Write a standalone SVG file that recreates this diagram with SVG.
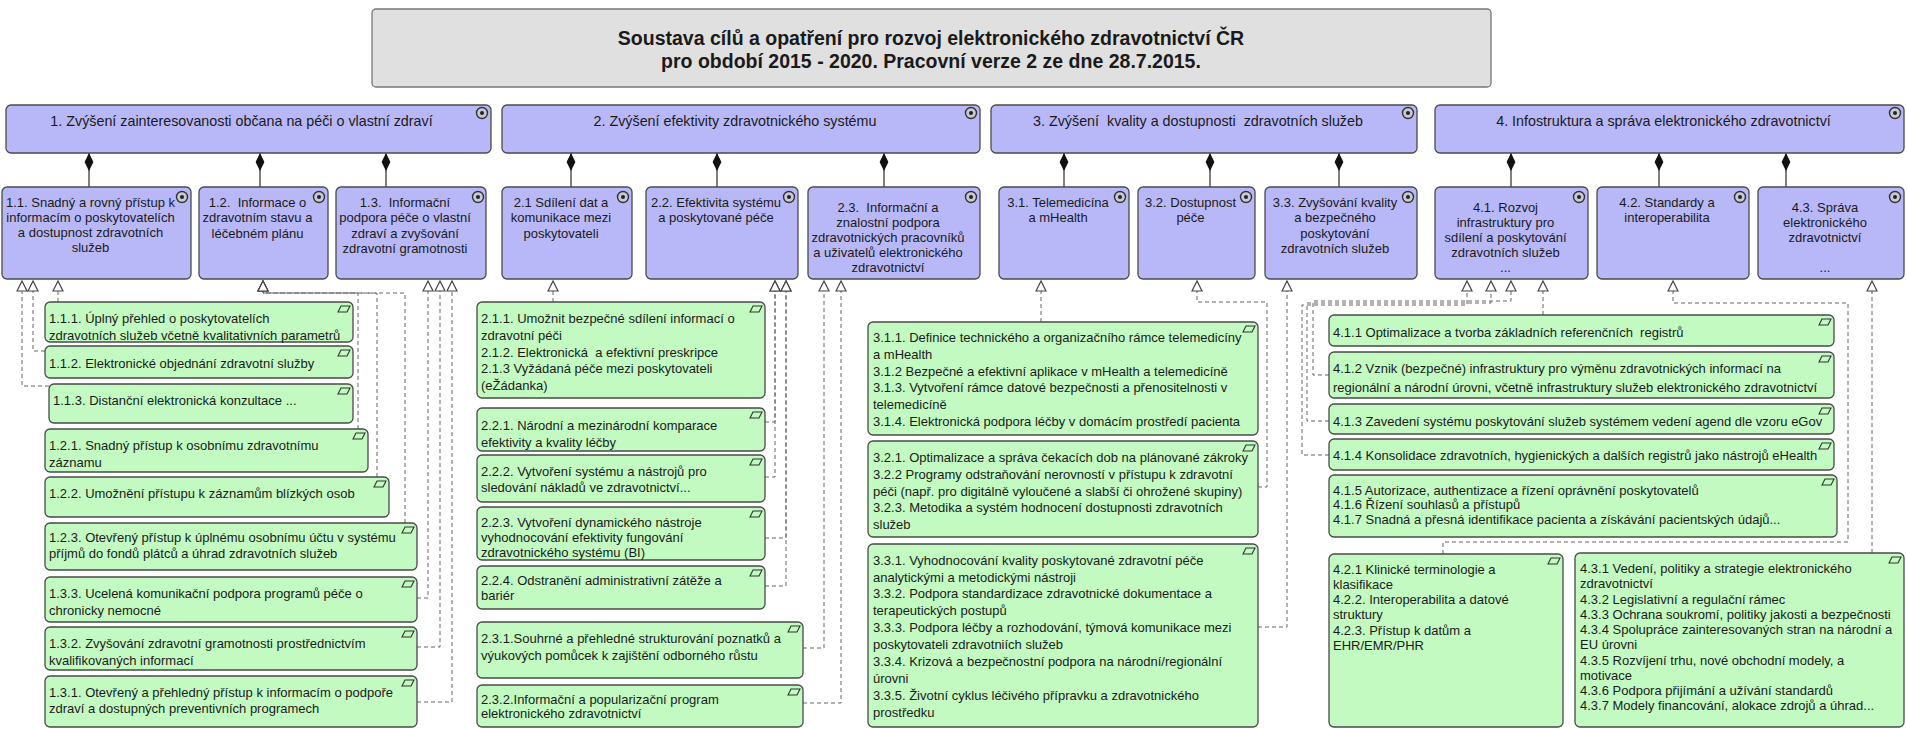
<svg xmlns="http://www.w3.org/2000/svg" xmlns:xlink="http://www.w3.org/1999/xlink" width="1907" height="729" viewBox="0 0 1907 729">
<style>
.p{fill:#b8b8f8;stroke:#4a4a4a;stroke-width:1.3}
.g{fill:#c2fac2;stroke:#4a4a4a;stroke-width:1.3}
.t{fill:#e0e0e0;stroke:#777;stroke-width:1.3}
text{font-family:"Liberation Sans",Arial,sans-serif;fill:#1a1a1a;white-space:pre}
.l1{font-size:14.3px;text-anchor:middle}
.l2{font-size:13px;text-anchor:middle}
.gt{font-size:13px}
.ttl{font-size:19.5px;font-weight:bold;text-anchor:middle}
.dash{fill:none;stroke:#666;stroke-width:1;stroke-dasharray:4 3;marker-end:url(#tri)}
.comp{fill:none;stroke:#555;stroke-width:1.5;marker-end:url(#dia)}
</style>
<defs>
<marker id="tri" viewBox="0 0 12 12" refX="11" refY="6" markerWidth="12" markerHeight="12" markerUnits="userSpaceOnUse" orient="auto"><path d="M1,1 L11,6 L1,11 Z" fill="#fff" stroke="#444" stroke-width="1.2"/></marker>
<marker id="dia" viewBox="0 0 20 10" refX="19" refY="5" markerWidth="20" markerHeight="10" markerUnits="userSpaceOnUse" orient="auto"><path d="M1,5 L10,0.6 L19,5 L10,9.4 Z" fill="#111"/></marker>
<g id="goal"><circle r="5.5" fill="#c8c8d8" stroke="#333" stroke-width="1.4"/><circle r="2" fill="#222"/></g>
<path id="req" d="M0,6 L3,0 L12,0 L9,6 Z" fill="none" stroke="#333" stroke-width="1.1"/>
</defs>
<rect width="1907" height="729" fill="#fff"/>

<g id="connectors">
<path class="comp" d="M89,187 V153"/><path class="comp" d="M260,187 V153"/><path class="comp" d="M386,187 V153"/>
<path class="comp" d="M571,187 V153"/><path class="comp" d="M717,187 V153"/><path class="comp" d="M884,187 V153"/>
<path class="comp" d="M1064,187 V153"/><path class="comp" d="M1210,187 V153"/><path class="comp" d="M1339,187 V153"/>
<path class="comp" d="M1511,187 V153"/><path class="comp" d="M1659,187 V153"/><path class="comp" d="M1786,187 V153"/>
<path class="dash" d="M58,302 V281"/>
<path class="dash" d="M45,351 H33 V281"/>
<path class="dash" d="M49,386 H22 V281"/>
<path class="dash" d="M358,429 V293 H263 V281"/>
<path class="dash" d="M377,477 V293 H263 V281"/>
<path class="dash" d="M405,523 V293 H263 V281"/>
<path class="dash" d="M417,598 H428 V281"/>
<path class="dash" d="M417,647 H440 V281"/>
<path class="dash" d="M417,702 H452 V281"/>
<path class="dash" d="M553,302 V281"/>
<path class="dash" d="M765,422 H775 V281"/>
<path class="dash" d="M765,477 H775 V281"/>
<path class="dash" d="M765,538 H786 V281"/>
<path class="dash" d="M765,586 H786 V281"/>
<path class="dash" d="M803,648 H824 V281"/>
<path class="dash" d="M803,703 H841 V281"/>
<path class="dash" d="M1041,322 V281"/>
<path class="dash" d="M1258,487 H1267 V302 H1197 V281"/>
<path class="dash" d="M1258,627 H1287 V281"/>
<path class="dash" d="M1543,315 V281"/>
<path class="dash" d="M1329,375 H1313 V301 H1511 V281"/>
<path class="dash" d="M1329,421 H1307 V303 H1491 V281"/>
<path class="dash" d="M1329,455 H1302 V305 H1467 V281"/>
<path class="dash" d="M1443,554 V542 H1848 V303 H1673 V281"/>
<path class="dash" d="M1872,553 V281"/>
</g>

<g id="title"><rect class="t" x="372" y="9" width="1119" height="78" rx="4"/>
<text class="ttl" x="931" y="45">Soustava cílů a opatření pro rozvoj elektronického zdravotnictví ČR</text>
<text class="ttl" x="931" y="68">pro období 2015 - 2020. Pracovní verze 2 ze dne 28.7.2015.</text></g>

<g id="n1"><rect class="p" x="6" y="105" width="485" height="48" rx="5"/><use href="#goal" x="482" y="113"/><text class="l1" x="241.5" y="126">1. Zvýšení zainteresovanosti občana na péči o vlastní zdraví</text></g>
<g id="n2"><rect class="p" x="502" y="105" width="478" height="48" rx="5"/><use href="#goal" x="971" y="113"/><text class="l1" x="735" y="126">2. Zvýšení efektivity zdravotnického systému</text></g>
<g id="n3"><rect class="p" x="991" y="105" width="426" height="48" rx="5"/><use href="#goal" x="1408" y="113"/><text class="l1" x="1198" y="126">3. Zvýšení  kvality a dostupnosti  zdravotních služeb</text></g>
<g id="n4"><rect class="p" x="1435" y="105" width="469" height="48" rx="5"/><use href="#goal" x="1895" y="113"/><text class="l1" x="1663.5" y="126">4. Infostruktura a správa elektronického zdravotnictví</text></g>

<g id="n1-1"><rect class="p" x="2" y="187" width="189" height="92" rx="5"/><use href="#goal" x="182" y="197"/><text class="l2"><tspan x="90.5" y="206.5">1.1. Snadný a rovný přístup k</tspan><tspan x="90.5" y="221.5">informacím o poskytovatelích</tspan><tspan x="90.5" y="236.5">a dostupnost zdravotních</tspan><tspan x="90.5" y="251.5">služeb</tspan></text></g>
<g id="n1-2"><rect class="p" x="199" y="187" width="129" height="92" rx="5"/><use href="#goal" x="319" y="197"/><text class="l2"><tspan x="257.5" y="206.5">1.2.  Informace o</tspan><tspan x="257.5" y="222">zdravotním stavu a</tspan><tspan x="257.5" y="237.5">léčebném plánu</tspan></text></g>
<g id="n1-3"><rect class="p" x="336" y="187" width="150" height="92" rx="5"/><use href="#goal" x="478" y="197"/><text class="l2"><tspan x="405" y="206.5">1.3.  Informační</tspan><tspan x="405" y="222">podpora péče o vlastní</tspan><tspan x="405" y="237.5">zdraví a zvyšování</tspan><tspan x="405" y="252.5">zdravotní gramotnosti</tspan></text></g>
<g id="n2-1"><rect class="p" x="502" y="187" width="130" height="92" rx="5"/><use href="#goal" x="623" y="197"/><text class="l2"><tspan x="561" y="206.5">2.1 Sdílení dat a</tspan><tspan x="561" y="222">komunikace mezi</tspan><tspan x="561" y="237.5">poskytovateli</tspan></text></g>
<g id="n2-2"><rect class="p" x="646" y="187" width="152" height="92" rx="5"/><use href="#goal" x="789" y="197"/><text class="l2"><tspan x="716" y="206.5">2.2. Efektivita systému</tspan><tspan x="716" y="222">a poskytované péče</tspan></text></g>
<g id="n2-3"><rect class="p" x="808" y="187" width="172" height="92" rx="5"/><use href="#goal" x="971" y="197"/><text class="l2"><tspan x="888" y="211.5">2.3.  Informační a</tspan><tspan x="888" y="226.5">znalostní podpora</tspan><tspan x="888" y="241.5">zdravotnických pracovníků</tspan><tspan x="888" y="256.5">a uživatelů elektronického</tspan><tspan x="888" y="271.5">zdravotnictví</tspan></text></g>
<g id="n3-1"><rect class="p" x="999" y="187" width="130" height="92" rx="5"/><use href="#goal" x="1120" y="197"/><text class="l2"><tspan x="1058" y="206.5">3.1. Telemedicína</tspan><tspan x="1058" y="222">a mHealth</tspan></text></g>
<g id="n3-2"><rect class="p" x="1138" y="187" width="117" height="92" rx="5"/><use href="#goal" x="1246" y="197"/><text class="l2"><tspan x="1190.5" y="206.5">3.2. Dostupnost</tspan><tspan x="1190.5" y="222">péče</tspan></text></g>
<g id="n3-3"><rect class="p" x="1265" y="187" width="152" height="92" rx="5"/><use href="#goal" x="1408" y="197"/><text class="l2"><tspan x="1335" y="206.5">3.3. Zvyšování kvality</tspan><tspan x="1335" y="222">a bezpečného</tspan><tspan x="1335" y="237.5">poskytování</tspan><tspan x="1335" y="252.5">zdravotních služeb</tspan></text></g>
<g id="n4-1"><rect class="p" x="1435" y="187" width="153" height="92" rx="5"/><use href="#goal" x="1579" y="197"/><text class="l2"><tspan x="1505.5" y="211.5">4.1. Rozvoj</tspan><tspan x="1505.5" y="226.5">infrastruktury pro</tspan><tspan x="1505.5" y="241.5">sdílení a poskytování</tspan><tspan x="1505.5" y="256.5">zdravotních služeb</tspan><tspan x="1505.5" y="271.5">...</tspan></text></g>
<g id="n4-2"><rect class="p" x="1597" y="187" width="152" height="92" rx="5"/><use href="#goal" x="1740" y="197"/><text class="l2"><tspan x="1667" y="206.5">4.2. Standardy a</tspan><tspan x="1667" y="222">interoperabilita</tspan></text></g>
<g id="n4-3"><rect class="p" x="1758" y="187" width="146" height="92" rx="5"/><use href="#goal" x="1895" y="197"/><text class="l2"><tspan x="1825" y="211.5">4.3. Správa</tspan><tspan x="1825" y="226.5">elektronického</tspan><tspan x="1825" y="241.5">zdravotnictví</tspan><tspan x="1825" y="271.5">...</tspan></text></g>

<g id="r1-1-1"><rect class="g" x="45" y="302" width="308" height="40" rx="5"/><use href="#req" x="338" y="306"/><text class="gt"><tspan x="49" y="322.5">1.1.1. Úplný přehled o poskytovatelích</tspan><tspan x="49" y="339.5">zdravotních služeb včetně kvalitativních parametrů</tspan></text></g>
<g id="r1-1-2"><rect class="g" x="45" y="346" width="308" height="32" rx="5"/><use href="#req" x="338" y="350"/><text class="gt"><tspan x="49" y="367.5">1.1.2. Elektronické objednání zdravotní služby</tspan></text></g>
<g id="r1-1-3"><rect class="g" x="49" y="384" width="304" height="39" rx="5"/><use href="#req" x="338" y="388"/><text class="gt"><tspan x="53" y="404.5">1.1.3. Distanční elektronická konzultace ...</tspan></text></g>
<g id="r1-2-1"><rect class="g" x="45" y="429" width="323" height="43" rx="5"/><use href="#req" x="353" y="433"/><text class="gt"><tspan x="49" y="449.5">1.2.1. Snadný přístup k osobnímu zdravotnímu</tspan><tspan x="49" y="466.5">záznamu</tspan></text></g>
<g id="r1-2-2"><rect class="g" x="45" y="477" width="344" height="40" rx="5"/><use href="#req" x="374" y="481"/><text class="gt"><tspan x="49" y="497.5">1.2.2. Umožnění přístupu k záznamům blízkých osob</tspan></text></g>
<g id="r1-2-3"><rect class="g" x="45" y="523" width="372" height="47" rx="5"/><use href="#req" x="402" y="527"/><text class="gt"><tspan x="49" y="541.5">1.2.3. Otevřený přístup k úplnému osobnímu účtu v systému</tspan><tspan x="49" y="557.5">příjmů do fondů plátců a úhrad zdravotních služeb</tspan></text></g>
<g id="r1-3-3"><rect class="g" x="45" y="577" width="372" height="45" rx="5"/><use href="#req" x="402" y="581"/><text class="gt"><tspan x="49" y="597.5">1.3.3. Ucelená komunikační podpora programů péče o</tspan><tspan x="49" y="614.5">chronicky nemocné</tspan></text></g>
<g id="r1-3-2"><rect class="g" x="45" y="627" width="372" height="43" rx="5"/><use href="#req" x="402" y="631"/><text class="gt"><tspan x="49" y="647.5">1.3.2. Zvyšování zdravotní gramotnosti prostřednictvím</tspan><tspan x="49" y="664.5">kvalifikovaných informací</tspan></text></g>
<g id="r1-3-1"><rect class="g" x="45" y="676" width="372" height="51" rx="5"/><use href="#req" x="402" y="680"/><text class="gt"><tspan x="49" y="696.5">1.3.1. Otevřený a přehledný přístup k informacím o podpoře</tspan><tspan x="49" y="712.5">zdraví a dostupných preventivních programech</tspan></text></g>

<g id="r2-1-1"><rect class="g" x="477" y="302" width="288" height="96" rx="5"/><use href="#req" x="750" y="306"/><text class="gt"><tspan x="481" y="322.5">2.1.1. Umožnit bezpečné sdílení informací o</tspan><tspan x="481" y="339.5">zdravotní péči</tspan><tspan x="481" y="356.5">2.1.2. Elektronická  a efektivní preskripce</tspan><tspan x="481" y="372.5">2.1.3 Vyžádaná péče mezi poskytovateli</tspan><tspan x="481" y="389.5">(eŽádanka)</tspan></text></g>
<g id="r2-2-1"><rect class="g" x="477" y="408" width="288" height="43" rx="5"/><use href="#req" x="750" y="412"/><text class="gt"><tspan x="481" y="429.5">2.2.1. Národní a mezinárodní komparace</tspan><tspan x="481" y="446.5">efektivity a kvality léčby</tspan></text></g>
<g id="r2-2-2"><rect class="g" x="477" y="455" width="288" height="47" rx="5"/><use href="#req" x="750" y="459"/><text class="gt"><tspan x="481" y="475.5">2.2.2. Vytvoření systému a nástrojů pro</tspan><tspan x="481" y="491.5">sledování nákladů ve zdravotnictví...</tspan></text></g>
<g id="r2-2-3"><rect class="g" x="477" y="507" width="288" height="53" rx="5"/><use href="#req" x="750" y="511"/><text class="gt"><tspan x="481" y="526.5">2.2.3. Vytvoření dynamického nástroje</tspan><tspan x="481" y="541.5">vyhodnocování efektivity fungování</tspan><tspan x="481" y="557">zdravotnického systému (BI)</tspan></text></g>
<g id="r2-2-4"><rect class="g" x="477" y="566" width="288" height="43" rx="5"/><use href="#req" x="750" y="570"/><text class="gt"><tspan x="481" y="584.5">2.2.4. Odstranění administrativní zátěže a</tspan><tspan x="481" y="599.5">bariér</tspan></text></g>
<g id="r2-3-1"><rect class="g" x="477" y="622" width="326" height="56" rx="5"/><use href="#req" x="788" y="626"/><text class="gt"><tspan x="481" y="642.5">2.3.1.Souhrné a přehledné strukturování poznatků a</tspan><tspan x="481" y="659.5">výukových pomůcek k zajištění odborného růstu</tspan></text></g>
<g id="r2-3-2"><rect class="g" x="477" y="685" width="326" height="42" rx="5"/><use href="#req" x="788" y="689"/><text class="gt"><tspan x="481" y="703.5">2.3.2.Informační a popularizační program</tspan><tspan x="481" y="717.5">elektronického zdravotnictví</tspan></text></g>

<g id="r3-1"><rect class="g" x="868" y="322" width="390" height="113" rx="5"/><use href="#req" x="1243" y="326"/><text class="gt"><tspan x="873" y="341.5">3.1.1. Definice technického a organizačního rámce telemedicíny</tspan><tspan x="873" y="358.5">a mHealth</tspan><tspan x="873" y="375.5">3.1.2 Bezpečné a efektivní aplikace v mHealth a telemedicíně</tspan><tspan x="873" y="392">3.1.3. Vytvoření rámce datové bezpečnosti a přenositelnosti v</tspan><tspan x="873" y="409">telemedicíně</tspan><tspan x="873" y="426">3.1.4. Elektronická podpora léčby v domácím prostředí pacienta</tspan></text></g>
<g id="r3-2"><rect class="g" x="868" y="441" width="390" height="96" rx="5"/><use href="#req" x="1243" y="445"/><text class="gt"><tspan x="873" y="461.5">3.2.1. Optimalizace a správa čekacích dob na plánované zákroky</tspan><tspan x="873" y="478.5">3.2.2 Programy odstraňování nerovností v přístupu k zdravotní</tspan><tspan x="873" y="495.5">péči (např. pro digitálně vyloučené a slabší či ohrožené skupiny)</tspan><tspan x="873" y="511.5">3.2.3. Metodika a systém hodnocení dostupnosti zdravotních</tspan><tspan x="873" y="529">služeb</tspan></text></g>
<g id="r3-3"><rect class="g" x="868" y="544" width="390" height="183" rx="5"/><use href="#req" x="1243" y="548"/><text class="gt"><tspan x="873" y="564.5">3.3.1. Vyhodnocování kvality poskytované zdravotní péče</tspan><tspan x="873" y="581.5">analytickými a metodickými nástroji</tspan><tspan x="873" y="597.5">3.3.2. Podpora standardizace zdravotnické dokumentace a</tspan><tspan x="873" y="614.5">terapeutických postupů</tspan><tspan x="873" y="631.5">3.3.3. Podpora léčby a rozhodování, týmová komunikace mezi</tspan><tspan x="873" y="648.5">poskytovateli zdravotniích služeb</tspan><tspan x="873" y="665.5">3.3.4. Krizová a bezpečnostní podpora na národní/regionální</tspan><tspan x="873" y="682.5">úrovni</tspan><tspan x="873" y="699.5">3.3.5. Životní cyklus léčivého přípravku a zdravotnického</tspan><tspan x="873" y="716.5">prostředku</tspan></text></g>

<g id="r4-1-1"><rect class="g" x="1329" y="315" width="505" height="31" rx="5"/><use href="#req" x="1819" y="319"/><text class="gt"><tspan x="1333" y="336.5">4.1.1 Optimalizace a tvorba základních referenčních  registrů</tspan></text></g>
<g id="r4-1-2"><rect class="g" x="1329" y="352" width="505" height="46" rx="5"/><use href="#req" x="1819" y="356"/><text class="gt"><tspan x="1333" y="372.5">4.1.2 Vznik (bezpečné) infrastruktury pro výměnu zdravotnických informací na</tspan><tspan x="1333" y="391.5">regionální a národní úrovni, včetně infrastruktury služeb elektronického zdravotnictví</tspan></text></g>
<g id="r4-1-3"><rect class="g" x="1329" y="404" width="505" height="30" rx="5"/><use href="#req" x="1819" y="408"/><text class="gt"><tspan x="1333" y="425.5">4.1.3 Zavedení systému poskytování služeb systémem vedení agend dle vzoru eGov</tspan></text></g>
<g id="r4-1-4"><rect class="g" x="1329" y="439" width="505" height="31" rx="5"/><use href="#req" x="1819" y="443"/><text class="gt"><tspan x="1333" y="459.5">4.1.4 Konsolidace zdravotních, hygienických a dalších registrů jako nástrojů eHealth</tspan></text></g>
<g id="r4-1-5"><rect class="g" x="1329" y="475" width="508" height="62" rx="5"/><use href="#req" x="1822" y="479"/><text class="gt"><tspan x="1333" y="494.5">4.1.5 Autorizace, authentizace a řízení oprávnění poskytovatelů</tspan><tspan x="1333" y="508.5">4.1.6 Řízení souhlasů a přístupů</tspan><tspan x="1333" y="523.5">4.1.7 Snadná a přesná identifikace pacienta a získávání pacientských údajů...</tspan></text></g>
<g id="r4-2"><rect class="g" x="1329" y="554" width="234" height="173" rx="5"/><use href="#req" x="1548" y="558"/><text class="gt"><tspan x="1333" y="573.5">4.2.1 Klinické terminologie a</tspan><tspan x="1333" y="588.5">klasifikace</tspan><tspan x="1333" y="603.5">4.2.2. Interoperabilita a datové</tspan><tspan x="1333" y="618.5">struktury</tspan><tspan x="1333" y="634.5">4.2.3. Přístup k datům a</tspan><tspan x="1333" y="649.5">EHR/EMR/PHR</tspan></text></g>
<g id="r4-3"><rect class="g" x="1575" y="553" width="329" height="174" rx="5"/><use href="#req" x="1889" y="557"/><text class="gt"><tspan x="1580" y="572.5">4.3.1 Vedení, politiky a strategie elektronického</tspan><tspan x="1580" y="587.5">zdravotnictví</tspan><tspan x="1580" y="603.5">4.3.2 Legislativní a regulační rámec</tspan><tspan x="1580" y="618.5">4.3.3 Ochrana soukromí, politiky jakosti a bezpečnosti</tspan><tspan x="1580" y="633.5">4.3.4 Spolupráce zainteresovaných stran na národní a</tspan><tspan x="1580" y="648.5">EU úrovni</tspan><tspan x="1580" y="664.5">4.3.5 Rozvíjení trhu, nové obchodní modely, a</tspan><tspan x="1580" y="679.5">motivace</tspan><tspan x="1580" y="694.5">4.3.6 Podpora přijímání a užívání standardů</tspan><tspan x="1580" y="709.5">4.3.7 Modely financování, alokace zdrojů a úhrad...</tspan></text></g>
</svg>
